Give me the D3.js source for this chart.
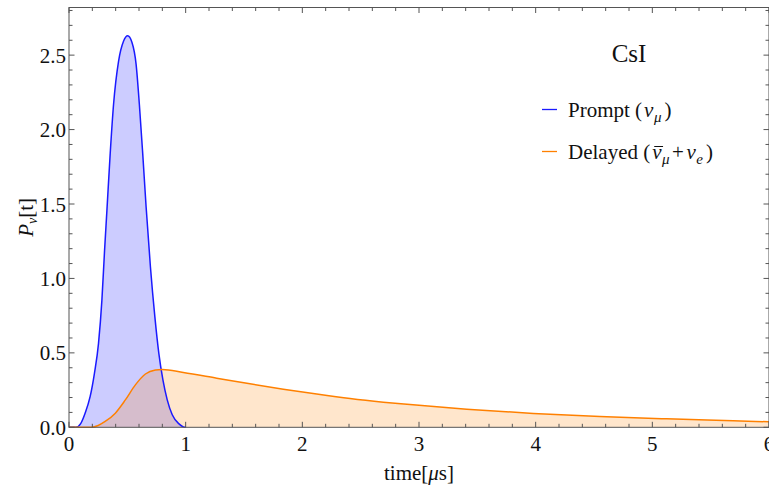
<!DOCTYPE html>
<html>
<head>
<meta charset="utf-8">
<script src="https://cdn.jsdelivr.net/npm/d3@7"></script>
<style>
  body { margin: 0; background: #fff; }
  svg text { font-family: "Liberation Serif", "Times New Roman", serif; }
</style>
</head>
<body>
<svg id="chart"></svg>
<script>
// prompt (nu_mu) time profile
const promptT = [0, 0.06, 0.1, 0.138, 0.181, 0.218, 0.253, 0.282, 0.305, 0.325, 0.353, 0.382, 0.425, 0.468, 0.503,
                 0.54, 0.575, 0.603, 0.632, 0.661, 0.698, 0.736, 0.77, 0.805, 0.842, 0.885, 0.943, 0.98, 1.0];
const promptP = [0, 0, 0.025, 0.095, 0.206, 0.363, 0.564, 0.854, 1.19, 1.457, 1.837, 2.17, 2.46, 2.595, 2.63,
                 2.585, 2.44, 2.17, 1.837, 1.48, 1.077, 0.742, 0.497, 0.318, 0.184, 0.084, 0.023, 0.003, 0];

// delayed (nubar_mu + nu_e)
const delayedT = [0, 0.19, 0.25, 0.31, 0.397, 0.483, 0.569, 0.655, 0.741, 0.8, 0.98, 1.266, 1.551, 1.837,
                  2.123, 2.409, 2.694, 2.923, 3.409, 3.98, 4.551, 5.123, 5.694, 6.0];
const delayedP = [0, 0, 0.012, 0.039, 0.095, 0.184, 0.285, 0.358, 0.385, 0.389, 0.368, 0.33, 0.292, 0.256,
                  0.223, 0.193, 0.169, 0.153, 0.122, 0.093, 0.072, 0.057, 0.044, 0.037];

const xTicks = [0, 1, 2, 3, 4, 5, 6];
const yTicks = [0, 0.5, 1.0, 1.5, 2.0, 2.5];

const width = 769, height = 492;
var margin = {top: 7.5, right: 0, bottom: 64.7, left: 69};

var svg = d3.select("#chart").attr("width", width).attr("height", height);

var x = d3.scaleLinear().domain([0, 6]).range([margin.left, width - margin.right]);
var y = d3.scaleLinear().domain([0, 2.82]).range([height - margin.bottom, margin.top]);

var prompt = promptT.map((t, i) => [t, promptP[i]]);
var delayed = delayedT.map((t, i) => [t, delayedP[i]]);

var area = d3.area().x(d => x(d[0])).y0(y(0)).y1(d => y(d[1])).curve(d3.curveMonotoneX);
var line = d3.line().x(d => x(d[0])).y(d => y(d[1])).curve(d3.curveMonotoneX);

const blue = "#1a1aff", orange = "#ff8000";

// fills
svg.append("path").attr("d", area(prompt)).attr("fill", "#0000ff").attr("fill-opacity", 0.2);
svg.append("path").attr("d", area(delayed)).attr("fill", orange).attr("fill-opacity", 0.2);
// curves
svg.append("path").attr("d", line(prompt)).attr("fill", "none").attr("stroke", blue).attr("stroke-width", 1.5);
svg.append("path").attr("d", line(delayed)).attr("fill", "none").attr("stroke", orange).attr("stroke-width", 1.5);

// frame with inward ticks on every side
var frameColor = "#555";
var x0 = x(0), x1 = x(6), y0 = y(0), y1 = y(2.82);
var fr = svg.append("g").attr("stroke", frameColor).attr("stroke-width", 1).attr("fill", "none");
fr.append("rect").attr("x", x0).attr("y", y1).attr("width", x1 - x0).attr("height", y0 - y1);

var xMinor = d3.range(0, 6.001, 0.2);
var yMinor = d3.range(0, 2.82, 0.1);
var isMajor = (v, step) => Math.abs(v / step - Math.round(v / step)) < 1e-6;

xMinor.forEach(v => {
  var len = isMajor(v, 1) ? 5.5 : 3.5;
  fr.append("line").attr("x1", x(v)).attr("x2", x(v)).attr("y1", y0).attr("y2", y0 - len);
  fr.append("line").attr("x1", x(v)).attr("x2", x(v)).attr("y1", y1).attr("y2", y1 + len);
});
yMinor.forEach(v => {
  var len = isMajor(v, 0.5) ? 5.5 : 3.5;
  fr.append("line").attr("x1", x0).attr("x2", x0 + len).attr("y1", y(v)).attr("y2", y(v));
  fr.append("line").attr("x1", x1).attr("x2", x1 - len).attr("y1", y(v)).attr("y2", y(v));
});

// tick labels
svg.selectAll(".xlab").data(xTicks).join("text").attr("class", "xlab")
  .attr("x", d => x(d)).attr("y", y0 + 24).attr("text-anchor", "middle")
  .attr("font-size", 21).attr("fill", "#111").text(d => d);
svg.selectAll(".ylab").data(yTicks).join("text").attr("class", "ylab")
  .attr("x", x0 - 3).attr("y", d => y(d) + 7.5).attr("text-anchor", "end")
  .attr("font-size", 21).attr("fill", "#111").text(d => d3.format(".1f")(d));

// axis titles
var xt = svg.append("text").attr("x", (x0 + x1) / 2).attr("y", 480).attr("text-anchor", "middle")
  .attr("font-size", 21).attr("fill", "#111");
xt.append("tspan").text("time[");
xt.append("tspan").attr("font-style", "italic").text("μ");
xt.append("tspan").text("s]");

var yt = svg.append("text").attr("transform", `translate(33, ${(y0 + y1) / 2}) rotate(-90)`)
  .attr("text-anchor", "middle").attr("font-size", 21).attr("fill", "#111");
yt.append("tspan").attr("font-style", "italic").text("P");
yt.append("tspan").attr("font-style", "italic").attr("font-size", 14).attr("dy", 4).text("ν");
yt.append("tspan").attr("dy", -4).text("[t]");

// title inside plot
svg.append("text").attr("x", 629).attr("y", 62).attr("text-anchor", "middle")
  .attr("font-size", 25).attr("fill", "#111").text("CsI");

// legend
var lg = svg.append("g");
lg.append("line").attr("x1", 542).attr("x2", 557).attr("y1", 109.5).attr("y2", 109.5).attr("stroke", blue).attr("stroke-width", 1.3);
lg.append("line").attr("x1", 542).attr("x2", 557).attr("y1", 151.5).attr("y2", 151.5).attr("stroke", orange).attr("stroke-width", 1.3);

var t1 = lg.append("text").attr("x", 568).attr("y", 117).attr("font-size", 21).attr("fill", "#111");
t1.append("tspan").text("Prompt (");
t1.append("tspan").attr("font-style", "italic").attr("dx", 2).text("ν");
t1.append("tspan").attr("font-style", "italic").attr("font-size", 15).attr("dx", 0.5).attr("dy", 4.5).text("μ");
t1.append("tspan").attr("dx", 3).attr("dy", -4.5).text(")");

var t2 = lg.append("text").attr("x", 568).attr("y", 159).attr("font-size", 21).attr("fill", "#111");
t2.append("tspan").text("Delayed (");
t2.append("tspan").attr("font-style", "italic").attr("dx", 2).text("ν");
t2.append("tspan").attr("font-style", "italic").attr("font-size", 15).attr("dx", 0.5).attr("dy", 4.5).text("μ");
t2.append("tspan").attr("dx", 2.5).attr("dy", -4.5).text("+");
t2.append("tspan").attr("font-style", "italic").attr("dx", 2.5).text("ν");
t2.append("tspan").attr("font-style", "italic").attr("font-size", 15).attr("dx", 0.5).attr("dy", 4.5).text("e");
t2.append("tspan").attr("dx", 3).attr("dy", -4.5).text(")");

// bar over the antineutrino symbol
var nuIdx = "Delayed (".length;
var nx0 = t2.node().getStartPositionOfChar(nuIdx).x;
var nx1 = t2.node().getEndPositionOfChar(nuIdx).x;
lg.append("line").attr("x1", nx0 + 2).attr("x2", nx1 + 1.5).attr("y1", 146.5).attr("y2", 146.5)
  .attr("stroke", "#111").attr("stroke-width", 1);
</script>
</body>
</html>
